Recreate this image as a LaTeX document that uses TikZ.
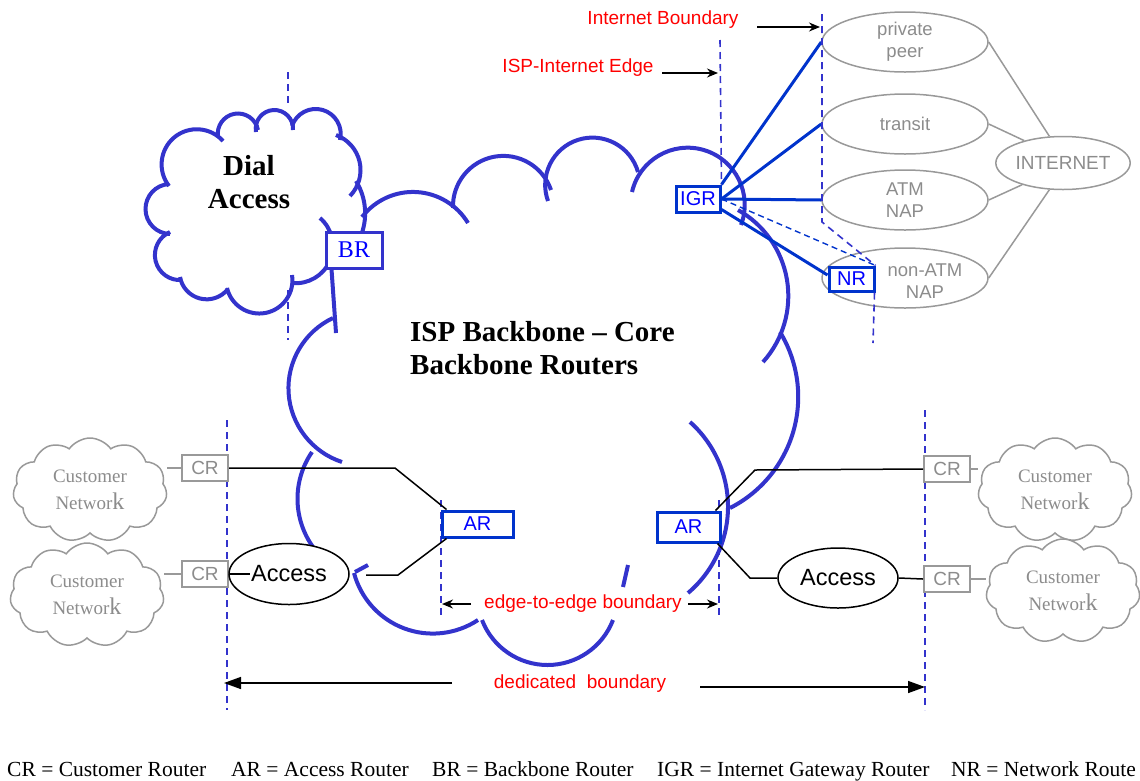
\documentclass[tikz,border=0pt]{standalone}
\usepackage{fontspec}
\setmainfont{Liberation Serif}
\newfontfamily\arial{Liberation Sans}
\usetikzlibrary{calc,shapes.geometric,shapes.symbols,arrows.meta}
\definecolor{cloudblue}{RGB}{51,51,204}
\definecolor{boxblue}{RGB}{0,51,204}
\definecolor{txtblue}{RGB}{0,0,255}
\definecolor{lgray}{RGB}{153,153,153}
\definecolor{tgray}{RGB}{140,140,140}
\definecolor{lblred}{RGB}{255,0,0}
% circular bump from (x1,y1) to (x2,y2) (pixel coords, y down), bulging to the left of travel with sagitta h
\newcommand\cbump[5]{%
  \pgfmathsetmacro\cbc{veclen(#3-#1,#4-#2)}%
  \pgfmathsetmacro\cbt{4*atan(2*#5/\cbc)}%
  \pgfmathsetmacro\cbb{\cbt/4}%
  \pgfmathsetmacro\cbl{(4/3)*tan(\cbt/8)/(2*sin(\cbt/4)*0.3915)}%
  \draw[cl] (#1,-#2) to[bend left=\cbb, looseness=\cbl] ($(#1,-#2)!0.5!(#3,-#4)!#5 pt!90:(#3,-#4)$) to[bend left=\cbb, looseness=\cbl] (#3,-#4);}
\begin{document}
\begin{tikzpicture}[x=1pt,y=1pt,
  cl/.style={draw=cloudblue, line width=4pt},
  bnd/.style={draw=cloudblue, line width=1.6pt, dash pattern=on 7pt off 5pt},
  rbox/.style={draw=boxblue, line width=3pt, fill=white, inner sep=0, text=txtblue, font=\arial\fontsize{20}{24}\selectfont},
  crbox/.style={draw=lgray, line width=2pt, fill=white, minimum width=46pt, minimum height=26pt, inner sep=0, text=tgray, font=\arial\fontsize{19}{22}\selectfont},
  gell/.style={ellipse, draw=lgray, line width=1.5pt, minimum width=166pt, minimum height=60pt, inner sep=0, text=tgray, align=center, font=\arial\fontsize{18.5}{22}\selectfont},
  acc/.style={ellipse, draw=black, line width=1.5pt, fill=white, minimum width=120pt, minimum height=61pt, inner sep=0, font=\arial\fontsize{23.5}{26}\selectfont},
  redlbl/.style={text=lblred, inner sep=0, font=\arial\fontsize{19}{22}\selectfont},
  igrl/.style={draw=boxblue, line width=3pt},
  igrd/.style={draw=boxblue, line width=1.4pt, dash pattern=on 6pt off 4pt},
  blk/.style={draw=black, line width=1.5pt},
  glink/.style={draw=lgray, line width=1.5pt},
  sarr/.style={draw=black, line width=1.5pt, -{Stealth[length=11pt,width=9pt]}},
  larr/.style={draw=black, line width=1.5pt, -{Triangle[length=17pt,width=12pt]}},
  legend/.style={anchor=base west, inner sep=0, font=\fontsize{21.5}{24}\selectfont},
  custcloud/.style={cloud, cloud puffs=11, cloud puff arc=110, aspect=1.45, draw=lgray, line width=1.5pt, fill=white, minimum width=154pt, minimum height=104pt, inner sep=0, align=center, text=tgray, font=\fontsize{19}{27}\selectfont}
]
\path[use as bounding box] (0,0) rectangle (1140,-780);

% ---------- big ISP backbone cloud ----------
\cbump{362}{217}{468}{223}{28}
\cbump{453}{208}{551}{190}{43}
\cbump{548}{201}{638}{172}{49}
\cbump{632}{192}{741}{225}{61}
\cbump{738}{210}{763}{362}{37}
\cbump{780}{332}{730}{508}{40}
\cbump{690}{422}{688}{593}{39}
\draw[cl] (628,-565) -- (623,-587);
\cbump{613}{620}{482}{620}{45}
\cbump{478}{620}{354}{573}{34}
\draw[cl] (355,-572) -- (368,-565);
\cbump{313}{547}{312}{452}{15}
\cbump{342}{462}{333}{318}{49}
\draw[cl] (331,-262) -- (336,-333);

% ---------- Dial access cloud ----------
\cbump{170}{234}{169}{184}{24}
\cbump{169}{186}{223}{141}{34}
\cbump{218}{137}{258}{130}{20}
\cbump{256}{132}{293}{130}{21}
\cbump{292}{126}{340}{140}{24}
\cbump{336}{135}{350}{196}{17}
\cbump{356}{181}{360}{238}{7}
\cbump{320}{218}{292}{283}{26}
\cbump{292}{275}{227}{288}{32}
\cbump{228}{289}{180}{277}{16}
\cbump{182}{280}{170}{232}{21}

\node[align=center, inner sep=0, font=\bfseries\fontsize{29}{33}\selectfont] (dial) at (249,-182) {Dial\\Access};
\node[align=left, anchor=north west, inner sep=0, font=\bfseries\fontsize{29}{33.3}\selectfont] (isp) at (410,-321) {ISP Backbone – Core\\Backbone Routers};

% ---------- boundary coordinates ----------
\coordinate (dA0) at (288,-72);  \coordinate (dA1) at (288,-106);
\coordinate (dB0) at (288,-290); \coordinate (dB1) at (288,-340);
\coordinate (ieTop) at (720,-40);
\coordinate (ibTop) at (822,-14); \coordinate (ibBend) at (822,-222);
\coordinate (nrBot) at (873,-343);
\coordinate (eeL0) at (441,-500); \coordinate (eeL1) at (441,-617);
\coordinate (eeR0) at (719,-500); \coordinate (eeR1) at (719,-617);
\coordinate (ddL0) at (227,-420); \coordinate (ddL1) at (227,-710);
\coordinate (ddR0) at (925,-410); \coordinate (ddR1) at (925,-710);

% ---------- internet side ----------
\node[gell] (pp) at (905,-42) {private\\peer};
\node[gell] (tr) at (905,-124) {transit};
\node[gell] (atm) at (905,-200) {ATM\\NAP};
\node[gell] (na) at (905,-278) {};
\node[text=tgray, align=center, inner sep=0, font=\arial\fontsize{18.5}{22}\selectfont] (natx) at (925,-281) {non-ATM\\NAP};
\node[gell, minimum width=132pt, minimum height=53pt, font=\arial\fontsize{19}{22}\selectfont] (inet) at (1063,-163) {INTERNET};
\draw[glink] (pp.east) -- (inet.117);
\draw[glink] (tr.east) -- (inet.150);
\draw[glink] (atm.east) -- (inet.208);
\draw[glink] (na.east) -- (inet.243);

\node[rbox, minimum width=44pt, minimum height=26pt] (IGR) at (698,-199) {IGR};
\node[rbox, minimum width=45pt, minimum height=24pt] (NR) at (851.5,-279) {NR};
\node[rbox, draw=cloudblue, minimum width=56pt, minimum height=36pt, font=\fontsize{24}{26}\selectfont] (BR) at (354,-250) {BR};

\draw[igrl] (IGR.north east) -- (pp.west);
\draw[igrl] (IGR.east) -- (tr.west);
\draw[igrl] (IGR.east) -- (atm.west);
\draw[igrl] ([yshift=4pt]IGR.south east) -- ([yshift=4pt]NR.west);
\draw[igrd] (IGR.east) -- (NR.north east);

% ---------- dashed boundaries ----------
\draw[bnd] (dA0) -- (dA1);
\draw[bnd] (dB0) -- (dB1);
\draw[bnd] (ieTop) -- (IGR.north east);
\draw[bnd] (ibTop) -- (ibBend) -- (NR.north east);
\draw[bnd] ([xshift=-1pt]NR.south east) -- (nrBot);
\draw[bnd] (eeL0) -- (eeL1);
\draw[bnd] (eeR0) -- (eeR1);
\draw[bnd] (ddL0) -- (ddL1);
\draw[bnd] (ddR0) -- (ddR1);

% ---------- labels and arrows ----------
\node[redlbl] (ibt) at (663,-20) {Internet Boundary};
\node[redlbl] (iet) at (578,-68) {ISP-Internet Edge};
\node[redlbl] (eet) at (583,-604) {edge-to-edge boundary};
\node[redlbl] (dbt) at (580,-684) {dedicated\ \ boundary};
\coordinate (ib0) at (757,-27); \coordinate (ib1) at (820,-27);
\coordinate (ie0) at (662,-73); \coordinate (ie1) at (718,-73);
\coordinate (eL0) at (471,-604); \coordinate (eL1) at (442,-604);
\coordinate (eR0) at (688,-604); \coordinate (eR1) at (718,-604);
\coordinate (dL0) at (452,-683); \coordinate (dL1) at (224,-683);
\coordinate (dR0) at (700,-687); \coordinate (dR1) at (925,-687);
\draw[sarr] (ib0) -- (ib1);
\draw[sarr] (ie0) -- (ie1);
\draw[sarr] (eL0) -- (eL1);
\draw[sarr] (eR0) -- (eR1);
\draw[larr] (dL0) -- (dL1);
\draw[larr] (dR0) -- (dR1);

% ---------- access side ----------
\node[custcloud] (cn1) at (90,-490) {Customer\\Networ{\fontsize{24}{24}\selectfont k}};
\node[custcloud] (cn2) at (87,-595) {Customer\\Networ{\fontsize{24}{24}\selectfont k}};
\node[custcloud] (cn3) at (1055,-490) {Customer\\Networ{\fontsize{24}{24}\selectfont k}};
\node[custcloud] (cn4) at (1063,-591) {Customer\\Networ{\fontsize{24}{24}\selectfont k}};

\node[crbox] (CR1) at (205,-468) {CR};
\node[crbox] (CR2) at (205,-574) {CR};
\node[crbox] (CR3) at (947,-469) {CR};
\node[crbox] (CR4) at (947,-579) {CR};
\draw[glink] (CR1.west) -- (CR1.west -| cn1.east);
\draw[glink] (CR2.west) -- (CR2.west -| cn2.east);
\draw[glink] (CR3.east) -- (CR3.east -| cn3.west);
\draw[glink] (CR4.east) -- (CR4.east -| cn4.west);

\node[rbox, minimum width=71pt, minimum height=26pt] (AR1) at (477.5,-524) {AR};
\node[rbox, minimum width=63pt, minimum height=30pt] (AR2) at (688.5,-527) {AR};
\node[acc] (acc1) at (289,-574) {Access};
\node[acc, minimum height=60pt] (acc2) at (838,-578) {Access};

\coordinate (k1) at (395,-468);
\coordinate (k2s) at (366,-575); \coordinate (k2) at (398,-575);
\coordinate (k3) at (755,-470);
\coordinate (k4) at (750,-578);
\coordinate (k5) at (250,-574);
\draw[blk] (CR1.east) -- (k1) -- ([xshift=6pt]AR1.north west);
\draw[blk] (CR2.east) -- (k5);
\draw[blk] (k2s) -- (k2) -- ([xshift=6pt]AR1.south west);
\draw[blk] ([xshift=-6pt]AR2.north east) -- (k3) -- (CR3.west);
\draw[blk] ([xshift=-4pt]AR2.south east) -- (k4) -- (acc2.west);
\draw[blk] (acc2.east) -- (CR4.west);

% ---------- legend ----------
\node[legend] (lg1) at (7,-776) {CR = Customer Router};
\node[legend] (lg2) at (231,-776) {AR = Access Router};
\node[legend] (lg3) at (432,-776) {BR = Backbone Router};
\node[legend] (lg4) at (657,-776) {IGR = Internet Gateway Router};
\node[legend] (lg5) at (951,-776) {NR = Network Route};
\end{tikzpicture}
\end{document}
